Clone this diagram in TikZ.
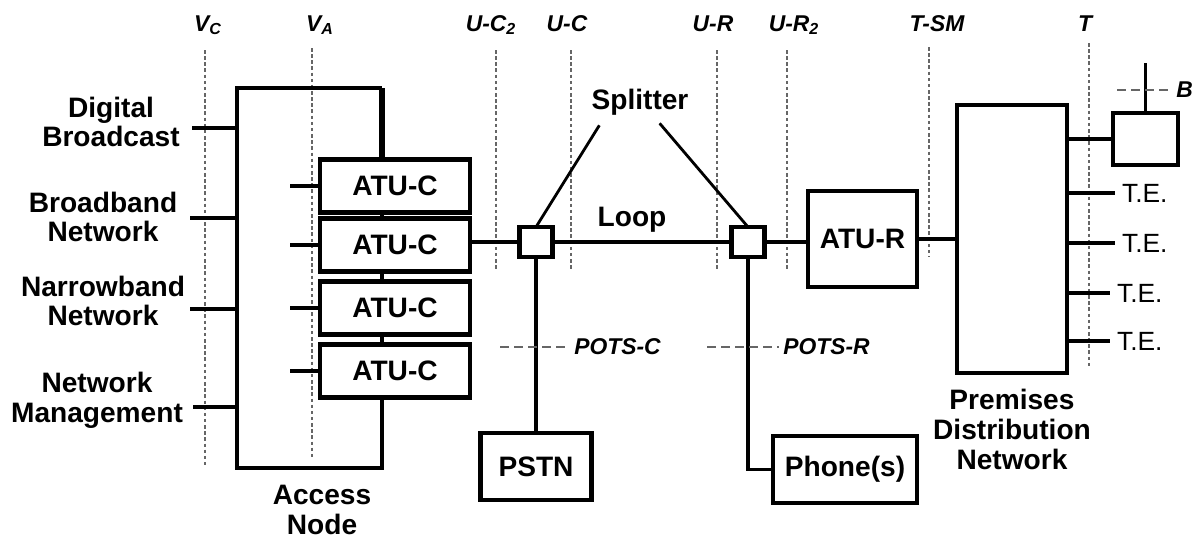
\documentclass[tikz,border=0pt]{standalone}
\usepackage{fontspec}
\setmainfont{Liberation Sans}
\usetikzlibrary{positioning}

\begin{document}
\begin{tikzpicture}[
    x=0.02cm, y=-0.02cm,
    font=\fontsize{16}{17}\selectfont\bfseries,
    box/.style={draw, line width=2.4pt, inner sep=0pt, outer sep=0pt, align=center},
    splitbox/.style={draw, line width=2.4pt, minimum width=0.66cm, minimum height=0.6cm, inner sep=0pt, outer sep=0pt},
    link/.style={line width=2.1pt},
    thinlink/.style={line width=1.6pt},
    frame/.style={line width=2.6pt},
    refline/.style={black!60, line width=0.8pt, dash pattern=on 2pt off 1.5pt},
    refdash/.style={black!60, line width=0.9pt, dash pattern=on 5pt off 3pt},
    reflab/.style={anchor=base, font=\fontsize{13}{14}\selectfont\bfseries\itshape},
    potslab/.style={anchor=west, inner sep=2pt, text=black, font=\fontsize{13}{14}\selectfont\bfseries\itshape},
    telab/.style={anchor=west, inner sep=3pt, text=black, font=\fontsize{15}{16}\selectfont\mdseries},
    txt/.style={align=center}
]
    \useasboundingbox (0,0) rectangle (1198,538);

    % reference points
    \draw[refline] (205,50) -- (205,465);
    \node[reflab] (vc) at (208,31) {V\textsubscript{C}};
    \draw[refline] (312,48) -- (312,460);
    \node[reflab] (va) at (320,31) {V\textsubscript{A}};
    \draw[refline] (496,50) -- (496,270);
    \node[reflab] (uc2) at (491,31) {U-C\textsubscript{2}};
    \draw[refline] (571,50) -- (571,270);
    \node[reflab] (uc) at (567,31) {U-C};
    \draw[refline] (717,50) -- (717,270);
    \node[reflab] (ur) at (713,31) {U-R};
    \draw[refline] (787,50) -- (787,270);
    \node[reflab] (ur2) at (794,31) {U-R\textsubscript{2}};
    \draw[refline] (929,47) -- (929,257);
    \node[reflab] (tsm) at (937,31) {T-SM};
    \draw[refline] (1089,43) -- (1089,367);
    \node[reflab] (tref) at (1085,31) {T};

    % access node
    \node[box, minimum width=3cm, minimum height=1.06cm] (atu1) at (395,186) {ATU-C};
    \node[box, minimum width=3cm, minimum height=1.06cm] (atu2) at (395,245) {ATU-C};
    \node[box, minimum width=3cm, minimum height=1.06cm] (atu3) at (395,308) {ATU-C};
    \node[box, minimum width=3cm, minimum height=1.06cm] (atu4) at (395,371) {ATU-C};

    \coordinate (anNW) at (237,88);
    \coordinate (anNE) at (382,88);
    \coordinate (anSW) at (237,468);
    \coordinate (anSE) at (382,468);
    \draw[frame] (anNE) -- (anNW) -- (anSW) -- (anSE) -- (atu4.south -| anNE);
    \draw[line width=3.6pt] (atu1.north -| anNE) -- (anNE);
    \draw[link] (atu1.south -| anNE) -- (atu2.north -| anNE);
    \draw[link] (atu2.south -| anNE) -- (atu3.north -| anNE);
    \draw[link] (atu3.south -| anNE) -- (atu4.north -| anNE);

    \draw[link] (atu1.west) -- ++(-30,0);
    \draw[link] (atu2.west) -- ++(-30,0);
    \draw[link] (atu3.west) -- ++(-30,0);
    \draw[link] (atu4.west) -- ++(-30,0);

    \node[txt] (digital) at (111,122) {Digital\\Broadcast};
    \node[txt] (broadband) at (103,217) {Broadband\\Network};
    \node[txt] (narrowband) at (103,301) {Narrowband\\Network};
    \node[txt] (netman) at (97,400) {Network\\Management};
    \draw[link] (192,128) coordinate (dbIn) -- (dbIn -| anNW);
    \draw[link] (190,218) coordinate (bbIn) -- (bbIn -| anNW);
    \draw[link] (190,309) coordinate (nbIn) -- (nbIn -| anNW);
    \draw[link] (193,407) coordinate (nmIn) -- (nmIn -| anNW);

    \node[txt] (anlab) at (322,510) {Access\\Node};

    % splitters and loop
    \node[splitbox] (splC) at (536,242) {};
    \node[splitbox] (splR) at (748,242) {};
    \node[box, minimum width=2.18cm, minimum height=1.92cm] (atur) at (862.5,239) {ATU-R};

    \draw[link] (atu2.east |- splC) -- (splC.west);
    \draw[link] (splC.east) -- (splR.west);
    \draw[link] (splR.east) -- (atur.west |- splR);
    \node (looplab) at (632,220) {Loop};

    \node (spltxt) at (640,102) {Splitter};
    \draw[thinlink] (splC.north) -- ([shift={(14,4)}]spltxt.south west);
    \draw[thinlink] (splR.north) -- ([shift={(-35,2)}]spltxt.south east);

    % POTS side
    \node[box, minimum width=2.22cm, minimum height=1.34cm] (pstn) at (536,466.5) {PSTN};
    \node[box, minimum width=2.88cm, minimum height=1.34cm] (phone) at (845,469.5) {Phone(s)};
    \draw[link] (splC.south) -- (pstn.north);
    \draw[link] (splR.south) |- (phone.west);
    \draw[refdash] (500,347) -- (570,347) node[potslab] {POTS-C};
    \draw[refdash] (707,347) -- (779,347) node[potslab] {POTS-R};

    % premises
    \node[box, minimum width=2.2cm, minimum height=5.36cm] (prem) at (1012,239) {};
    \node[txt, below=0.2cm of prem] (premlab) {Premises\\Distribution\\Network};
    \draw[link] (atur.east) -- (prem.west |- atur.east);

    \node[box, minimum width=1.3cm, minimum height=1.04cm] (bbox) at (1145.5,139) {};
    \draw[link] (prem.east |- bbox) -- (bbox.west);
    \draw[thinlink] (bbox.north) -- ++(0,-50) coordinate (btop);
    \draw[refdash] (1117,90) -- (1172,90) node[potslab] {B};

    \draw[link] (prem.east |- 0,193) -- ++(48,0) node[telab] {T.E.};
    \draw[link] (prem.east |- 0,243) -- ++(48,0) node[telab] {T.E.};
    \draw[link] (prem.east |- 0,293) -- ++(43,0) node[telab] {T.E.};
    \draw[link] (prem.east |- 0,341) -- ++(43,0) node[telab] {T.E.};
\end{tikzpicture}
\end{document}
